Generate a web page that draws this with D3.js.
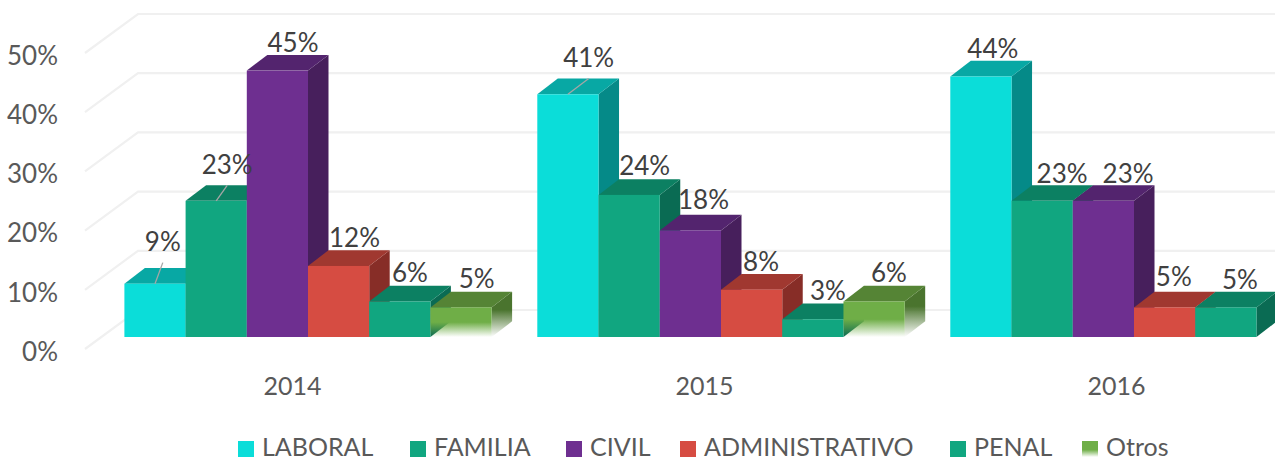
<!DOCTYPE html>
<html>
<head>
<meta charset="utf-8">
<script src="https://cdn.jsdelivr.net/npm/d3@7/dist/d3.min.js"></script>
<style>
html,body{margin:0;padding:0;background:#fff;overflow:hidden}
svg{display:block}
text{font-family:Lato,sans-serif}
</style>
</head>
<body>
<div id="chart"></div>
<script>
// ---- data ----
const years = ["2014", "2015", "2016"];
const seriesNames = ["LABORAL", "FAMILIA", "CIVIL", "ADMINISTRATIVO", "PENAL", "Otros"];
const laboral = [9, 41, 44];
const familia = [23, 24, 23];
const civil = [45, 18, 23];
const administrativo = [12, 8, 5];
const penal = [6, 3, 5];
const otros = [5, 6, null];
const yTicks = [0, 10, 20, 30, 40, 50];
const seriesValues = [laboral, familia, civil, administrativo, penal, otros];

// ---- styles ----
const frontColors = ["#0BDDD9", "#11A680", "#6E2F90", "#D64C42", "#11A680", "#6FAE47"];
const topColors = ["#08A8A4", "#0C8062", "#53246E", "#A03830", "#0C8062", "#558435"];
const sideColors = ["#058A88", "#0A6B53", "#471F5C", "#872D27", "#0A6B53", "#4A742E"];

// ---- layout ----
const W = 1275, H = 461;
const groupRanges = [[124.4, 491.6], [537.3, 904.7], [950.3, 1317.7]];
const depth = { x: 20.5, y: -15.7 };
const wall = { x: 138, y: 310, frontX: 85, frontY: 349 };
const legendSwatchX = [238, 410, 566, 680, 950, 1082];
const labelDx = [[7.8, 11, 15.6, 15.9, 10.2, 15.6], [20.8, 15.5, 13.1, 9.4, 15, 14.8], [11.9, 19.9, 24.7, 9.2, 14]];
const labelDy = [[-33.7, -28.1, -19.9, -20.3, -20.5, -20.7], [-28.3, -20.6, -22.7, -19.6, -20.5, -20.5], [-19.8, -19.1, -19.1, -22.4, -19.7]];

const svg = d3.select("#chart").append("svg").attr("width", W).attr("height", H);

const y = d3.scaleLinear().domain([0, 50]).range([337, 41]);
const wallY = d3.scaleLinear().domain([0, 50]).range([wall.y, 14]);
const xYear = d3.scalePoint().domain(years).range([292, 1116]);
const xBars = groupRanges.map(r => d3.scaleBand().domain(seriesNames).range(r));

// gradients for the fading series
const defs = svg.append("defs");
function fade(id, base, solidTo) {
  const g = defs.append("linearGradient").attr("id", id).attr("x1", 0).attr("y1", 0).attr("x2", 0).attr("y2", 1);
  g.append("stop").attr("offset", solidTo).attr("stop-color", base);
  g.append("stop").attr("offset", 1).attr("stop-color", base).attr("stop-opacity", 0);
}
fade("fadeFront", frontColors[5], 0.5);
fade("fadeSide", sideColors[5], 0.4);
fade("fadeSwatch", frontColors[5], 0.55);

// wall and floor grid
const gridLine = d3.line();
svg.append("g").selectAll("path").data(yTicks).join("path")
  .attr("d", t => gridLine([
    [wall.frontX, wallY(t) + wall.frontY - wall.y],
    [wall.x, wallY(t)],
    [W, wallY(t)]
  ]))
  .attr("fill", "none").attr("stroke", "#F0F0F0").attr("stroke-width", 2.2);

// bars
const poly = pts => pts.map(p => p.join(",")).join(" ");
const barData = [];
years.forEach((yr, yi) => seriesNames.forEach((s, si) => {
  const v = seriesValues[si][yi];
  if (v != null) barData.push({ yi, si, v });
}));

const bars = svg.append("g").selectAll("g").data(barData).join("g");
bars.each(function (d) {
  const g = d3.select(this);
  const x0 = xBars[d.yi](seriesNames[d.si]);
  const w = xBars[d.yi].bandwidth();
  const y0 = y(d.v), yb = y(0);
  const fading = d.si === 5;
  g.append("polygon")
    .attr("points", poly([[x0 + w, y0], [x0 + w + depth.x, y0 + depth.y], [x0 + w + depth.x, yb + depth.y], [x0 + w, yb]]))
    .attr("fill", fading ? "url(#fadeSide)" : sideColors[d.si]);
  g.append("polygon")
    .attr("points", poly([[x0, y0], [x0 + depth.x, y0 + depth.y], [x0 + w + depth.x, y0 + depth.y], [x0 + w, y0]]))
    .attr("fill", topColors[d.si]);
  g.append("rect")
    .attr("x", x0).attr("y", y0).attr("width", w).attr("height", yb - y0)
    .attr("fill", fading ? "url(#fadeFront)" : frontColors[d.si]);
});

// leader lines and value labels
const labelLayer = svg.append("g");
barData.forEach(d => {
  const cx = xBars[d.yi](seriesNames[d.si]) + xBars[d.yi].bandwidth() / 2;
  const top = y(d.v);
  const lx = cx + labelDx[d.yi][d.si];
  const ly = top + labelDy[d.yi][d.si] + 1;
  if (labelDy[d.yi][d.si] < -25) {
    labelLayer.append("line")
      .attr("x1", cx).attr("y1", top).attr("x2", lx).attr("y2", ly + 11.6)
      .attr("stroke", "#A6A6A6").attr("stroke-width", 1.3);
  }
  labelLayer.append("text")
    .attr("x", lx).attr("y", ly).attr("text-anchor", "middle")
    .attr("font-size", 26).attr("fill", "#404040")
    .text(d.v + "%");
});

// axes
const yAxis = svg.append("g").attr("transform", "translate(58,15)")
  .call(d3.axisLeft(y).tickValues(yTicks).tickFormat(t => t + "%").tickSize(0).tickPadding(0));
yAxis.select(".domain").remove();
yAxis.selectAll("text").attr("font-size", 26).attr("fill", "#595959").style("font-family", "Lato,sans-serif");

const xAxis = svg.append("g").attr("transform", "translate(0,386)")
  .call(d3.axisBottom(xYear).tickSize(0).tickPadding(0));
xAxis.select(".domain").remove();
xAxis.selectAll("text").attr("font-size", 25).attr("fill", "#595959").attr("y", 0).attr("dy", "0.35em").style("font-family", "Lato,sans-serif");

// legend
const legend = svg.append("g").selectAll("g").data(seriesNames).join("g")
  .attr("transform", (d, i) => `translate(${legendSwatchX[i]},0)`);
legend.append("rect").attr("x", 0).attr("y", 441).attr("width", 16).attr("height", 16)
  .attr("fill", (d, i) => i === 5 ? "url(#fadeSwatch)" : frontColors[i]);
legend.append("text").attr("x", 24).attr("y", 455.5)
  .attr("font-size", 25).attr("fill", "#595959").text(d => d);
</script>
</body>
</html>
